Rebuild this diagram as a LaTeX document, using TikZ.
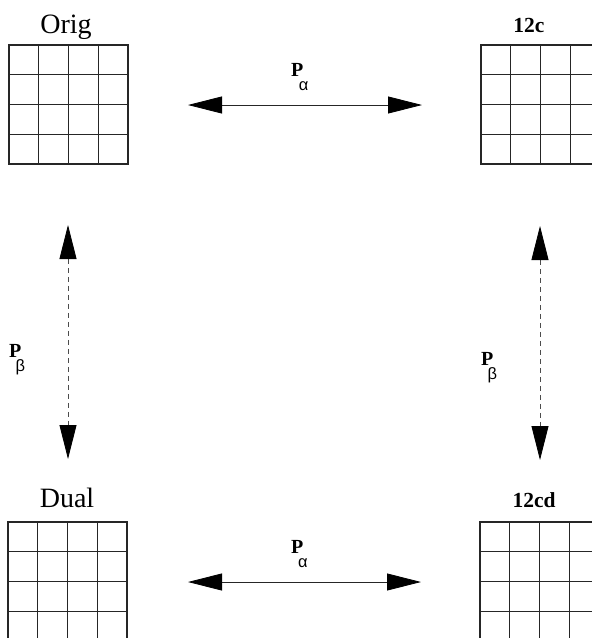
\documentclass[tikz,border=0pt]{standalone}
\usepackage{fontspec}
\setmainfont{Liberation Serif}
\newfontfamily\greekfont{Liberation Sans}
\usetikzlibrary{arrows.meta,calc}
\newcommand{\myPsub}[2]{\textbf{P}\kern#2\raisebox{-14pt}{\greekfont\fontsize{16.5}{18}\selectfont #1}}
\begin{document}
\begin{tikzpicture}[x=1pt,y=-1pt,
  gridline/.style={line width=1.1pt, draw=black!85},
  gridbox/.style={draw=black!85, line width=1.1pt, minimum width=119pt, minimum height=119pt,
    inner sep=0pt, outer sep=0pt,
    path picture={
      \foreach \t in {0.25,0.5,0.75}{
        \draw[gridline] ($(path picture bounding box.north west)!\t!(path picture bounding box.north east)$) --
                        ($(path picture bounding box.south west)!\t!(path picture bounding box.south east)$);
        \draw[gridline] ($(path picture bounding box.north west)!\t!(path picture bounding box.south west)$) --
                        ($(path picture bounding box.north east)!\t!(path picture bounding box.south east)$);
      }}},
  title/.style={font=\fontsize{28}{30}\selectfont, anchor=base, inner sep=0pt},
  btitle/.style={font=\fontsize{21.5}{24}\selectfont\bfseries, anchor=base, inner sep=0pt},
  plabel/.style={font=\fontsize{20}{22}\selectfont, anchor=base west, inner sep=0pt},
  solidarrow/.style={line width=0.8pt, draw=black!85,
    {Triangle[length=34pt,width=17pt,color=black]}-{Triangle[length=34pt,width=17pt,color=black]}},
  dasharrow/.style={line width=0.8pt, draw=black!70, dash pattern=on 5pt off 4pt,
    {Triangle[length=34pt,width=17pt,color=black]}-{Triangle[length=34pt,width=17pt,color=black]}}
]
\useasboundingbox (0,0) rectangle (592,638);
\clip (0,0) rectangle (592,638);

% grids
\node[gridbox] (orig) at (68.5,104.5) {};
\node[gridbox] (c12) at (540.5,104.5) {};
\node[gridbox] (dual) at (67.5,581.5) {};
\node[gridbox] (cd12) at (539.5,581.5) {};

% titles
\node[title] (torig) at (66,33) {Orig};
\node[title] (tdual) at (67,507) {Dual};
\node[btitle] (tc12) at (529,32) {12c};
\node[btitle] (tcd12) at (534,507) {12cd};

% arrow ends
\coordinate (ha1) at (188,105);
\coordinate (ha2) at (422,105);
\coordinate (hb1) at (188,582);
\coordinate (hb2) at (421,582);
\coordinate (va1) at (68,225);
\coordinate (va2) at (68,459);
\coordinate (vb1) at (540,226);
\coordinate (vb2) at (540,460);

\draw[solidarrow] (ha1) -- (ha2);
\draw[solidarrow] (hb1) -- (hb2);
\draw[dasharrow] (va1) -- (va2);
\draw[dasharrow] (vb1) -- (vb2);

% labels
\node[plabel] (pa1) at (291,76) {\myPsub{α}{-4.5pt}};
\node[plabel] (pa2) at (291,553) {\myPsub{α}{-5.3pt}};
\node[plabel] (pb1) at (9,357) {\myPsub{β}{-5.8pt}};
\node[plabel] (pb2) at (481,365) {\myPsub{β}{-5.8pt}};
\end{tikzpicture}
\end{document}
